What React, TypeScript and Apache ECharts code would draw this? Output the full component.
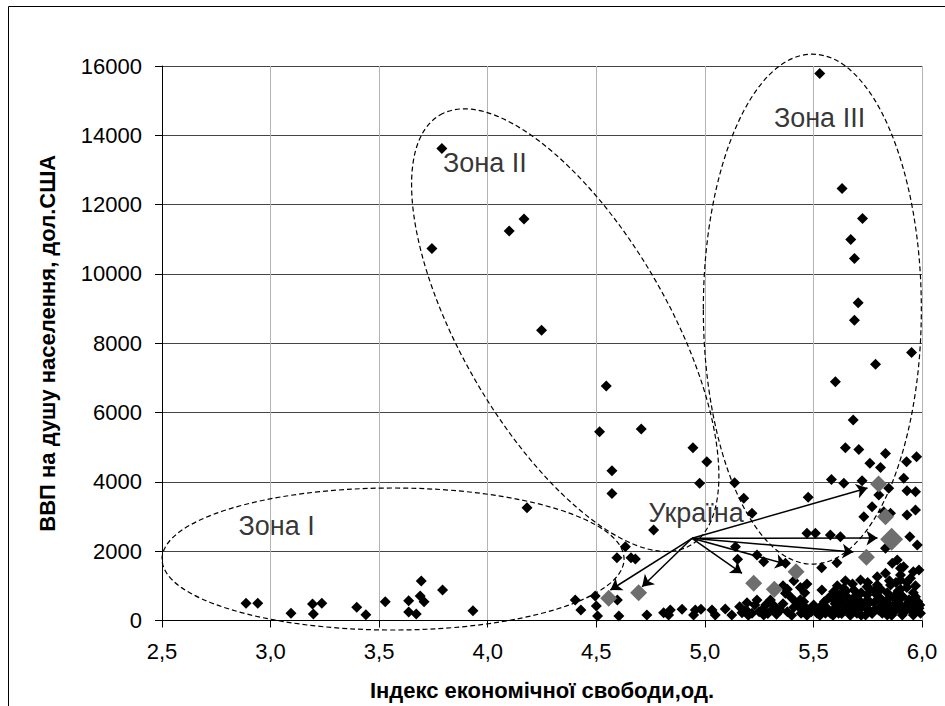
import React, { useEffect, useRef } from "react";
import * as echarts from "echarts";

const FONT = "'Liberation Sans', Arial, sans-serif";

const X_NAME = "Індекс економічної свободи,од.";
const Y_NAME = "ВВП на душу населення, дол.США";
const X_MIN = 2.5;
const X_MAX = 6.0;
const X_STEP = 0.5;
const Y_MIN = 0;
const Y_MAX = 16000;
const Y_STEP = 2000;

// Countries (black diamonds): [index, GDP per capita]
const zoneOnePoints: [number, number][] = [
  [2.887, 496], [2.941, 496], [3.094, 208], [3.193, 476], [3.197, 187], [3.236, 496],
  [3.397, 380], [3.439, 167], [3.528, 542], [3.636, 571], [3.636, 245], [3.671, 187],
  [3.689, 707], [3.707, 542], [3.694, 1139], [3.792, 880], [3.932, 283],
];

const zoneTwoPoints: [number, number][] = [
  [3.789, 13618], [3.743, 10734], [4.099, 11242], [4.167, 11588], [4.248, 8378],
  [4.546, 6763], [4.181, 3253],
];

const zoneThreePoints: [number, number][] = [
  [5.529, 15781], [5.632, 12465], [5.726, 11600], [5.672, 10994], [5.689, 10446],
  [5.706, 9166], [5.689, 8666], [5.952, 7735], [5.786, 7397], [5.601, 6887],
];

const middlePoints: [number, number][] = [
  [5.683, 5783], [4.515, 5445], [4.707, 5523], [4.945, 4984], [5.009, 4580],
  [4.572, 4320], [4.572, 3668], [4.976, 3957], [5.137, 3974], [5.179, 3524],
  [5.647, 4984], [5.709, 4937], [5.832, 4822], [5.760, 4534], [5.809, 4418],
  [5.929, 4580], [5.975, 4724], [5.583, 4072], [5.640, 3957], [5.724, 4032],
  [5.916, 4101], [5.931, 3744], [5.970, 3715], [5.801, 3619], [5.847, 3813],
  [5.476, 3553], [5.770, 3282], [5.824, 3138], [5.970, 3187], [5.931, 3043],
  [5.732, 2994], [5.855, 3092], [4.764, 2610], [5.217, 3092], [5.470, 2515],
  [5.509, 2515], [5.578, 2466], [5.624, 2417], [5.944, 2417], [5.978, 2177],
  [5.832, 2082], [5.141, 2128], [5.151, 1765], [5.240, 1889], [5.271, 1696],
  [5.371, 1650], [5.538, 1523], [5.608, 1667], [5.886, 1745], [4.595, 1811],
  [4.634, 2128], [4.680, 1774], [4.660, 1811], [5.915, 1552], [5.960, 1408],
];

const lowPoints: [number, number][] = [
  [4.403, 591], [4.429, 303], [4.495, 707], [4.500, 418], [4.506, 130], [4.597, 591],
  [4.604, 130], [4.733, 159], [4.810, 225], [4.841, 303], [4.833, 159], [4.895, 323],
  [4.956, 303], [4.948, 159], [4.982, 323], [5.033, 303], [5.048, 159], [5.094, 332],
  [5.124, 159], [5.171, 225], [5.194, 513], [5.240, 591], [5.217, 208], [5.263, 303],
  [5.271, 159], [5.302, 591], [5.309, 303], [5.348, 303], [5.371, 784], [5.394, 686],
  [5.417, 542], [5.432, 398], [5.443, 208], [5.160, 400], [5.190, 300], [5.200, 150],
  [5.230, 450], [5.250, 250], [5.280, 450], [5.290, 200], [5.320, 420], [5.330, 180],
  [5.360, 480], [5.380, 250], [5.400, 150], [5.410, 380], [5.440, 600], [5.460, 800],
  [5.380, 900], [5.360, 1000], [5.410, 1150], [5.440, 950], [5.470, 1050],
];

const densePoints: [number, number][] = [
  [5.647, 1148], [5.717, 1168], [5.794, 1263], [5.832, 1361], [5.863, 1650], [5.901, 1505],
  [5.901, 1312], [5.986, 1456], [5.947, 1217], [5.539, 880], [5.593, 831], [5.640, 929],
  [5.686, 880], [5.747, 975], [5.794, 1024], [5.855, 1024], [5.901, 900], [5.970, 686],
  [5.455, 542], [5.478, 303], [5.501, 447], [5.550, 542], [5.563, 352], [5.593, 591],
  [5.608, 398], [5.616, 208], [5.655, 686], [5.662, 447], [5.670, 254], [5.709, 591],
  [5.717, 352], [5.747, 735], [5.755, 496], [5.763, 254], [5.801, 686], [5.809, 398],
  [5.817, 208], [5.847, 640], [5.855, 352], [5.893, 591], [5.901, 303], [5.909, 159],
  [5.939, 542], [5.947, 303], [5.986, 352], [5.993, 208], [5.517, 208], [5.555, 208],
  [5.578, 208], [5.901, 1168], [5.460, 400], [5.530, 300], [5.590, 300], [5.640, 300],
  [5.690, 400], [5.730, 450], [5.780, 300], [5.830, 500], [5.870, 450], [5.920, 400],
  [5.960, 500], [5.700, 700], [5.780, 850], [5.880, 750], [5.620, 750], [5.580, 700],
  [5.700, 208], [5.740, 159], [5.840, 159], [5.960, 159],
  [5.470, 150], [5.490, 250], [5.510, 350], [5.530, 150], [5.540, 450], [5.560, 250],
  [5.570, 650], [5.590, 150], [5.600, 480], [5.610, 700], [5.630, 200], [5.630, 550],
  [5.650, 380], [5.650, 850], [5.670, 150], [5.680, 620], [5.690, 300], [5.710, 480],
  [5.720, 800], [5.720, 150], [5.740, 380], [5.750, 600], [5.760, 900], [5.770, 200],
  [5.780, 520], [5.790, 750], [5.800, 300], [5.810, 900], [5.820, 560], [5.830, 250],
  [5.840, 800], [5.850, 450], [5.860, 150], [5.870, 650], [5.880, 300], [5.880, 1100],
  [5.890, 850], [5.900, 450], [5.910, 700], [5.920, 250], [5.930, 950], [5.940, 600],
  [5.950, 400], [5.960, 800], [5.970, 250], [5.980, 550], [5.990, 450], [5.930, 1100],
  [5.970, 1000], [5.850, 1150], [5.750, 1100], [5.680, 1050], [5.610, 1000],
];

// Ukraine over the years (grey diamonds)
const ukrainePoints: [number, number][] = [
  [4.557, 640], [4.695, 802], [5.225, 1073], [5.320, 900], [5.420, 1408],
  [5.744, 1822], [5.800, 3937], [5.832, 2994], [5.860, 2342],
];
const UKRAINE_BIG_INDEX = 8;

// Arrows from the "Україна" label point
const arrowOrigin: [number, number] = [4.941, 2371];
const arrowTargets: [number, number][] = [
  [4.565, 880], [4.711, 975], [5.171, 1361], [5.376, 1621],
  [5.684, 1976], [5.795, 2379], [5.749, 3822],
];

// Zone ellipses: centres in data units
const zoneCentres: [number, number][] = [
  [3.564, 1774], [4.357, 8378], [5.495, 8984],
];
const ZONE_SHAPES = [
  { rx: 231, ry: 71, rot: 0 },
  { rx: 249, ry: 103, rot: -59.8 },
  { rx: 109, ry: 255, rot: 0 },
];

const labelTexts = ["Зона I", "Зона II", "Зона III", "Україна"];
const labelPositions: [number, number][] = [
  [3.028, 2725], [3.987, 13194], [5.528, 14492], [4.960, 3092],
];

const blackPoints: [number, number][] = [
  ...zoneOnePoints, ...zoneTwoPoints, ...zoneThreePoints,
  ...middlePoints, ...lowPoints, ...densePoints,
];

export default function App() {
  const ref = useRef<HTMLDivElement>(null);
  useEffect(() => {
    if (!ref.current) return;
    const chart = echarts.init(ref.current, null, { renderer: "svg" });
    const option: any = {
      animation: false,
      backgroundColor: "#ffffff",
      textStyle: { fontFamily: FONT, color: "#000" },
      grid: { left: 162, top: 66, width: 760, height: 554.5, containLabel: false, outerBoundsMode: "none" },
      xAxis: {
        type: "value",
        min: X_MIN,
        max: X_MAX,
        interval: X_STEP,
        name: X_NAME,
        nameLocation: "middle",
        nameGap: 59,
        nameTextStyle: { fontFamily: FONT, fontSize: 22, fontWeight: "bold", color: "#000" },
        axisLine: { show: true, onZero: false, lineStyle: { color: "#000", width: 1 } },
        axisTick: { show: true, length: 7, lineStyle: { color: "#000", width: 1 } },
        axisLabel: {
          color: "#000",
          fontSize: 22,
          fontFamily: FONT,
          margin: 20,
          formatter: (v: number) => v.toFixed(1).replace(".", ","),
        },
        splitLine: { show: true, lineStyle: { color: "#b4b4b4", width: 1 } },
      },
      yAxis: {
        type: "value",
        min: Y_MIN,
        max: Y_MAX,
        interval: Y_STEP,
        name: Y_NAME,
        nameLocation: "middle",
        nameRotate: 90,
        nameGap: 104,
        nameTextStyle: { fontFamily: FONT, fontSize: 22, fontWeight: "bold", color: "#000" },
        axisLine: { show: true, onZero: false, lineStyle: { color: "#000", width: 1 } },
        axisTick: { show: true, length: 7, lineStyle: { color: "#000", width: 1 } },
        axisLabel: {
          color: "#000",
          fontSize: 22,
          fontFamily: FONT,
          margin: 20,
          formatter: (v: number) => String(v),
        },
        splitLine: { show: true, lineStyle: { color: "#444", width: 1 } },
      },
      series: [
        {
          type: "custom",
          name: "zones",
          data: zoneCentres,
          clip: false,
          silent: true,
          z: 3,
          encode: { x: 0, y: 1 },
          renderItem: (params: any, api: any) => {
            const p = api.coord([api.value(0), api.value(1)]);
            const s = ZONE_SHAPES[params.dataIndex];
            return {
              type: "ellipse",
              x: p[0],
              y: p[1],
              rotation: (s.rot * Math.PI) / 180,
              shape: { cx: 0, cy: 0, rx: s.rx, ry: s.ry },
              style: { fill: "none", stroke: "#000", lineWidth: 1.2, lineDash: [5, 3] },
            };
          },
        },
        {
          type: "scatter",
          name: "countries",
          data: blackPoints,
          symbol: "diamond",
          symbolSize: 11,
          itemStyle: { color: "#000", opacity: 1 },
          silent: true,
          z: 4,
        },
        {
          type: "scatter",
          name: "arrows",
          data: [],
          silent: true,
          z: 5,
          markLine: {
            silent: true,
            symbol: ["none", "arrow"],
            symbolSize: 11,
            label: { show: false },
            lineStyle: { color: "#000", width: 1.5, type: "solid" },
            emphasis: { disabled: true },
            data: arrowTargets.map((t) => [{ coord: arrowOrigin }, { coord: t }]),
          },
        },
        {
          type: "scatter",
          name: "ukraine",
          data: ukrainePoints,
          symbol: "diamond",
          symbolSize: (_v: any, params: any) => (params.dataIndex === UKRAINE_BIG_INDEX ? 23 : 17),
          itemStyle: { color: "#6e6e6e", opacity: 1 },
          silent: true,
          z: 6,
        },
        {
          type: "scatter",
          name: "labels",
          data: labelPositions.map((p, i) => ({ value: p, name: labelTexts[i] })),
          symbolSize: 1,
          itemStyle: { color: "rgba(0,0,0,0)" },
          label: {
            show: true,
            position: "inside",
            formatter: "{b}",
            fontSize: 27,
            fontFamily: FONT,
            color: "#000",
          },
          silent: true,
          z: 7,
        },
      ],
      graphic: [
        { type: "line", shape: { x1: 8.5, y1: 6.5, x2: 945, y2: 6.5 }, style: { stroke: "#000", lineWidth: 1 } },
        { type: "line", shape: { x1: 8.5, y1: 6.5, x2: 8.5, y2: 706 }, style: { stroke: "#000", lineWidth: 1 } },
      ],
    };
    chart.setOption(option);
    return () => chart.dispose();
  }, []);
  return (
    <div
      ref={ref}
      style={{ position: "fixed", left: 0, top: 0, width: 945, height: 706, background: "#fff" }}
    />
  );
}
